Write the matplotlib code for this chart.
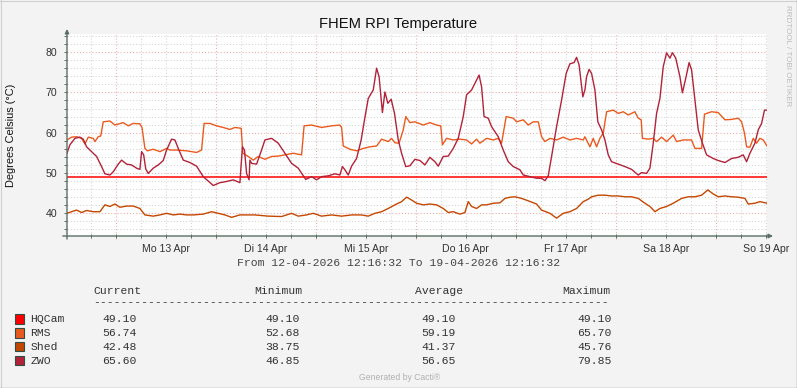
import numpy as np
import matplotlib
matplotlib.use("Agg")
import matplotlib.pyplot as plt
from matplotlib.patches import Rectangle

# canvas size in pixels
W, H = 797, 388

title = "FHEM RPI Temperature"
ylabel = "Degrees Celsius (°C)"
day_labels = ["Mo 13 Apr", "Di 14 Apr", "Mi 15 Apr", "Do 16 Apr",
              "Fr 17 Apr", "Sa 18 Apr", "So 19 Apr"]
span_text = "From 12-04-2026 12:16:32 To 19-04-2026 12:16:32"

# time axis in hours since 12-04-2026 12:16:32, span is 7 days
span_hours = 168.0
first_midnight = 11 + 43 / 60.0 + 28 / 3600.0   # 13 Apr 00:00

# HQCam (constant)
hqcam_h = [0.0, 168.0]
hqcam_v = [49.10, 49.10]

# RMS
rms_h = [0, 1.1, 2.3, 3.5, 4.3, 5.1, 6.3, 6.7, 7.5, 8.1, 8.7, 10.3, 11.5, 13.5, 14.7,
         15.9, 17.5, 18.0, 18.7, 19.3, 20.7, 22.3, 23.9, 24.7, 26.3, 28.7, 31.1, 32.3,
         32.9, 34.3, 35.9, 37.5, 39.1, 40.3, 41.8, 42.2, 43.5, 44.7, 45.9, 47.5, 49.1,
         50.7, 52.3, 54.3, 56.3, 56.9, 58.7, 61.1, 63.5, 65.5, 65.9, 66.3, 67.9, 69.5,
         71.1, 72.7, 74.3, 75.5, 77.1, 77.9, 78.7, 79.7, 80.7, 81.3, 82.3, 83.5, 85.5,
         87.1, 88.7, 89.7, 90.1, 91.1, 92.7, 94.3, 95.9, 97.1, 98.3, 99.1, 100.7, 102.3,
         103.5, 104.3, 105.4, 107.1, 107.9, 109.5, 110.7, 111.9, 113.1, 113.9, 114.7,
         115.9, 117.5, 119.1, 120.7, 122.3, 123.9, 124.3, 125.5, 126.3, 127.1, 127.9,
         128.7, 129.5, 131.1, 132.3, 133.5, 134.7, 136.3, 137.1, 137.8, 138.1, 139.5,
         140.7, 141.5, 142.7, 143.9, 145.5, 146.3, 147.9, 149.9, 150.7, 152.3, 153.0,
         154.7, 156.3, 157.9, 159.5, 161.1, 161.9, 162.6, 163.1, 163.9, 164.7, 165.5,
         166.3, 167.1, 168.0]
rms_v = [58.2, 58.9, 59.0, 58.6, 57.2, 58.9, 58.6, 57.8, 59.0, 59.2, 62.7, 62.9, 61.9,
         62.5, 61.7, 62.3, 62.2, 61.3, 56.1, 55.5, 55.9, 55.3, 56.1, 55.7, 55.7, 55.5,
         55.1, 55.7, 62.3, 62.3, 61.7, 61.3, 60.8, 61.3, 61.1, 54.9, 54.1, 53.2, 54.1,
         53.4, 54.1, 54.2, 54.5, 54.9, 54.5, 61.7, 61.9, 61.3, 61.7, 61.9, 61.3, 56.7,
         55.9, 55.5, 56.1, 56.5, 56.7, 58.4, 57.8, 58.6, 57.5, 57.4, 60.7, 64.0, 62.5,
         62.7, 61.9, 62.5, 61.9, 61.7, 57.0, 58.6, 58.2, 58.4, 58.2, 57.2, 58.4, 57.4,
         58.6, 58.2, 58.6, 57.4, 64.0, 63.6, 62.7, 63.2, 61.9, 62.7, 62.7, 59.0, 57.8,
         58.6, 58.2, 58.9, 58.2, 58.6, 58.2, 59.0, 56.5, 58.6, 56.5, 58.6, 59.9, 65.2,
         65.6, 64.8, 65.2, 64.4, 65.2, 63.6, 63.2, 58.6, 58.4, 58.6, 57.8, 58.9, 57.8,
         59.4, 57.8, 58.2, 58.2, 56.1, 56.1, 64.6, 65.2, 65.0, 63.2, 63.3, 63.6, 62.7,
         59.9, 56.5, 56.4, 58.6, 57.4, 58.6, 58.2, 56.7]

# Shed
shed_h = [0, 1.1, 2.3, 3.5, 4.7, 6.3, 7.9, 9.1, 10.3, 11.5, 12.7, 14.3, 15.9, 17.5,
          18.7, 20.7, 22.3, 23.9, 25.5, 27.1, 28.7, 30.3, 32.7, 34.7, 36.3, 37.9, 39.5,
          41.5, 42.7, 45.1, 48.3, 51.5, 53.9, 55.5, 57.5, 59.1, 61.1, 63.5, 65.9, 68.3,
          70.7, 72.3, 73.9, 75.5, 77.1, 78.7, 80.3, 81.5, 82.7, 83.9, 85.5, 87.1, 88.7,
          90.3, 91.5, 92.7, 94.3, 95.5, 96.3, 97.1, 98.3, 99.5, 100.7, 102.3, 103.9,
          105.1, 106.3, 107.5, 109.1, 110.7, 112.7, 113.9, 115.9, 117.5, 119.1, 120.7,
          122.3, 123.9, 125.1, 125.9, 127.5, 129.1, 130.7, 132.3, 133.9, 135.5, 137.1,
          138.7, 139.9, 141.1, 142.3, 143.9, 145.5, 147.5, 149.1, 150.7, 152.3, 153.8,
          155.1, 156.3, 157.9, 159.5, 161.1, 162.7, 163.5, 165.1, 166.3, 168.0]
shed_v = [40.0, 40.4, 40.8, 40.2, 40.7, 40.4, 40.4, 42.1, 41.7, 42.3, 41.5, 41.8, 41.8,
          41.2, 39.6, 39.3, 39.6, 40.0, 39.6, 39.8, 39.6, 39.6, 39.8, 40.4, 40.0, 39.6,
          39.0, 39.6, 39.6, 39.6, 39.3, 39.2, 40.0, 39.3, 39.6, 40.0, 39.3, 39.6, 39.3,
          39.6, 39.6, 39.3, 40.0, 40.4, 41.2, 42.1, 42.9, 44.0, 43.3, 42.5, 42.1, 42.3,
          42.1, 41.2, 40.2, 40.4, 39.8, 40.2, 42.9, 41.7, 41.2, 42.1, 42.1, 42.5, 42.6,
          43.7, 44.0, 44.1, 43.7, 43.1, 42.3, 40.8, 40.0, 38.8, 40.0, 40.4, 41.2, 42.9,
          43.5, 44.1, 44.5, 44.5, 44.3, 44.3, 44.1, 44.1, 43.7, 42.5, 41.7, 40.4, 41.2,
          41.7, 42.5, 43.7, 44.1, 44.1, 44.5, 45.8, 44.8, 44.1, 44.3, 44.1, 44.0, 43.7,
          42.3, 42.5, 42.9, 42.5]

# ZWO
zwo_h = [0, 0.7, 1.9, 3.1, 3.9, 4.7, 5.9, 7.1, 8.3, 9.1, 10.3, 11.1, 12.3, 13.1, 14.3,
         15.5, 16.7, 17.5, 17.9, 18.4, 18.9, 19.5, 20.7, 21.9, 23.1, 23.9, 25.1, 25.9,
         26.7, 27.9, 29.5, 31.1, 32.7, 35.1, 36.7, 38.3, 39.9, 41.5, 42.1, 42.6, 43.1,
         43.7, 43.9, 44.3, 45.5, 46.7, 47.5, 49.1, 50.7, 52.3, 53.9, 55.5, 57.3, 58.7,
         59.9, 61.1, 62.7, 64.3, 65.5, 66.1, 66.7, 67.5, 68.3, 69.5, 70.6, 71.4, 72.3,
         73.5, 74.3, 74.9, 75.7, 76.3, 77.0, 77.8, 78.6, 79.5, 80.3, 81.3, 82.3, 83.5,
         84.7, 85.9, 87.1, 88.3, 89.1, 90.3, 91.5, 92.7, 93.9, 95.1, 95.9, 97.1, 98.3,
         98.9, 99.5, 100.1, 101.1, 101.9, 103.5, 104.7, 105.9, 107.1, 108.7, 109.5,
         111.1, 112.7, 113.9, 114.7, 115.5, 116.3, 117.5, 118.7, 119.8, 120.7, 121.7,
         122.3, 122.9, 123.8, 124.3, 124.7, 125.3, 125.9, 126.7, 127.4, 128.3, 129.1,
         129.9, 130.7, 132.3, 133.9, 135.5, 137.1, 137.9, 139.1, 139.9, 140.7, 141.5,
         142.3, 143.1, 143.9, 144.7, 145.3, 146.1, 147.1, 147.7, 148.5, 149.3, 149.9,
         150.7, 151.5, 152.5, 153.5, 155.1, 156.3, 157.9, 159.5, 161.1, 162.3, 163.1,
         163.9, 165.1, 165.9, 166.7, 167.4, 168.0]
zwo_v = [54.9, 57.0, 58.6, 58.9, 58.4, 56.5, 55.3, 54.1, 51.6, 49.8, 49.5, 50.3, 52.2,
         53.2, 52.2, 52.0, 51.2, 50.9, 55.3, 54.5, 51.0, 49.9, 51.2, 52.0, 53.1, 55.7,
         58.4, 58.2, 56.1, 53.2, 52.6, 51.7, 49.1, 46.9, 47.6, 47.9, 48.3, 47.6, 56.5,
         55.7, 49.9, 48.3, 53.2, 52.4, 52.2, 55.7, 58.2, 58.6, 57.4, 54.9, 52.4, 51.2,
         48.4, 49.1, 48.3, 49.1, 49.3, 49.8, 49.5, 51.6, 50.8, 49.5, 51.7, 53.6, 58.2,
         63.2, 68.5, 70.6, 76.0, 73.9, 65.0, 70.1, 67.3, 68.3, 64.8, 58.2, 54.9, 51.6,
         51.8, 53.4, 53.1, 52.0, 53.9, 52.8, 51.7, 54.1, 54.2, 56.1, 58.6, 64.0, 69.4,
         70.6, 73.1, 74.3, 71.4, 64.0, 63.6, 61.5, 59.0, 55.7, 52.8, 51.6, 50.8, 49.5,
         49.1, 48.7, 48.7, 48.1, 49.3, 54.1, 61.5, 68.1, 74.7, 77.1, 77.4, 78.7, 76.8,
         68.9, 70.6, 73.9, 75.7, 74.7, 70.6, 62.7, 60.7, 58.2, 54.5, 52.8, 52.2, 51.6,
         50.9, 49.5, 50.1, 49.9, 51.2, 57.4, 64.8, 68.5, 76.4, 79.8, 78.5, 79.85, 78.5,
         73.9, 69.9, 73.5, 77.4, 75.6, 68.1, 60.7, 57.4, 54.5, 53.6, 53.1, 52.6, 53.6,
         53.9, 54.5, 52.8, 54.9, 57.4, 60.7, 62.3, 65.6, 65.6]

# legend table
names = ["HQCam", "RMS", "Shed", "ZWO"]
current = [49.10, 56.74, 42.48, 65.60]
minimum = [49.10, 52.68, 38.75, 46.85]
average = [49.10, 59.19, 41.37, 56.65]
maximum = [49.10, 65.70, 45.76, 79.85]
colors = ["#FF0000", "#EA5A1E", "#C44700", "#B22238"]

sans = ["Liberation Sans", "DejaVu Sans"]
mono = ["Liberation Mono", "DejaVu Sans Mono"]
axis_col = "#5A6E66"
txt_col = "#333333"


def fx(x):
    return x / W


def fy(y):
    return 1 - y / H


fig = plt.figure(figsize=(W / 100, H / 100), dpi=100, facecolor="#F3F3F3")

# frame around the image
fig.add_artist(plt.Line2D([fx(0.5), fx(0.5)], [0, 1], color="#CFCFCF", lw=0.8))
fig.add_artist(plt.Line2D([0, 1], [fy(0.5), fy(0.5)], color="#CFCFCF", lw=0.8))
fig.add_artist(plt.Line2D([0, 1], [fy(H - 0.5), fy(H - 0.5)], color="#9A9A9A", lw=1.0))
fig.add_artist(plt.Line2D([fx(W - 0.5), fx(W - 0.5)], [0, 1], color="#9A9A9A", lw=1.0))

ax = fig.add_axes([fx(67), fy(236), 700 / W, 202 / H])
ax.set_facecolor("white")
ax.set_xlim(0, span_hours)
ax.set_ylim(34.37, 84.49)
for s in ax.spines.values():
    s.set_visible(False)

# grid
dot = (0, (1, 2))
for y in np.arange(36, 85, 2):
    major = y % 10 == 0
    ax.axhline(y, color="#F0A8A8" if major else "#D2D2D2", lw=0.75, ls=dot, zorder=1)
six_h = np.arange(first_midnight - 6, span_hours, 6)
for t in six_h:
    k = (t - first_midnight) / 24
    major = abs(k - round(k)) < 1e-6
    ax.plot([t, t], [34.37 - 0.7, 84.49], color="#F0A8A8" if major else "#D2D2D2",
            lw=0.75, ls=dot, zorder=1, clip_on=False)

# series
ax.plot(hqcam_h, hqcam_v, color=colors[0], lw=1.1, zorder=3)
ax.plot(rms_h, rms_v, color=colors[1], lw=1.0, zorder=3)
ax.plot(shed_h, shed_v, color=colors[2], lw=1.0, zorder=3)
ax.plot(zwo_h, zwo_v, color=colors[3], lw=1.0, zorder=4)

# axes with arrows
ax.annotate("", xy=(1.0086, 0), xytext=(-0.006, 0), xycoords="axes fraction",
            arrowprops=dict(arrowstyle="-|>", color=axis_col, lw=1.0,
                            mutation_scale=6, shrinkA=0, shrinkB=0), zorder=5)
ax.annotate("", xy=(0, 1.025), xytext=(0, -0.015), xycoords="axes fraction",
            arrowprops=dict(arrowstyle="-|>", color=axis_col, lw=1.0,
                            mutation_scale=6, shrinkA=0, shrinkB=0), zorder=5)

# ticks
noons = first_midnight + 12 + 24 * np.arange(len(day_labels))
ax.xaxis.remove_overlapping_locs = False
ax.set_xticks(six_h)
ax.set_xticklabels([])
ax.set_xticks(noons, minor=True)
ax.set_xticklabels(day_labels, minor=True, fontsize=7.6, family=sans, color=txt_col)
ax.tick_params(axis="x", which="major", direction="inout", length=3, width=0.7,
               color=axis_col)
ax.tick_params(axis="x", which="minor", length=0, pad=6.0)
ax.set_yticks([40, 50, 60, 70, 80])
ax.set_yticklabels(["40", "50", "60", "70", "80"], fontsize=7.6, family=sans,
                   color=txt_col)
ax.set_yticks(np.arange(36, 85, 2), minor=True)
ax.tick_params(axis="y", which="both", direction="out", length=2.2, width=0.7,
               color=axis_col, pad=4.6)

# texts
fig.text(fx(398.5), fy(28), title, ha="center", va="baseline", fontsize=10.6,
         family=sans, color="#111111")
fig.text(fx(11), fy(135), ylabel, ha="center", va="center", rotation=90,
         fontsize=7.9, family=sans, color="#111111")
fig.text(fx(398.5), fy(262.5), span_text, ha="center", va="center", fontsize=8.2,
         family=mono, color="#444444")
fig.text(fx(787.5), fy(56), "RRDTOOL / TOBI OETIKER", ha="center", va="center",
         rotation=270, fontsize=5.8, family=sans, color="#BBBBBB")
fig.text(fx(400), fy(377), "Generated by Cacti®", ha="center", va="center",
         fontsize=6.2, family=sans, color="#B0B0B0")

# legend table
head_y = 290.7
fig.text(fx(93), fy(head_y), "Current", ha="left", va="center", fontsize=8.2,
         family=mono, color=txt_col)
fig.text(fx(254), fy(head_y), "Minimum", ha="left", va="center", fontsize=8.2,
         family=mono, color=txt_col)
fig.text(fx(414.5), fy(head_y), "Average", ha="left", va="center", fontsize=8.2,
         family=mono, color=txt_col)
fig.text(fx(562), fy(head_y), "Maximum", ha="left", va="center", fontsize=8.2,
         family=mono, color=txt_col)
fig.text(fx(93), fy(302.5), "-" * 75, ha="left", va="center", fontsize=8.2,
         family=mono, color=txt_col)

row_y = [319, 333, 346.7, 360.5]
for i, name in enumerate(names):
    y = row_y[i]
    fig.patches.append(Rectangle((fx(15), fy(y + 4.5)), 9.5 / W, 9.5 / H,
                                 transform=fig.transFigure, facecolor=colors[i],
                                 edgecolor="#2F4F45", lw=0.8))
    fig.text(fx(30.5), fy(y), name, ha="left", va="center", fontsize=8.2,
             family=mono, color=txt_col)
    fig.text(fx(136.5), fy(y), "%.2f" % current[i], ha="right", va="center",
             fontsize=8.2, family=mono, color=txt_col)
    fig.text(fx(299.5), fy(y), "%.2f" % minimum[i], ha="right", va="center",
             fontsize=8.2, family=mono, color=txt_col)
    fig.text(fx(455.5), fy(y), "%.2f" % average[i], ha="right", va="center",
             fontsize=8.2, family=mono, color=txt_col)
    fig.text(fx(611.5), fy(y), "%.2f" % maximum[i], ha="right", va="center",
             fontsize=8.2, family=mono, color=txt_col)

fig.savefig("out.png", dpi=100, facecolor=fig.get_facecolor())
